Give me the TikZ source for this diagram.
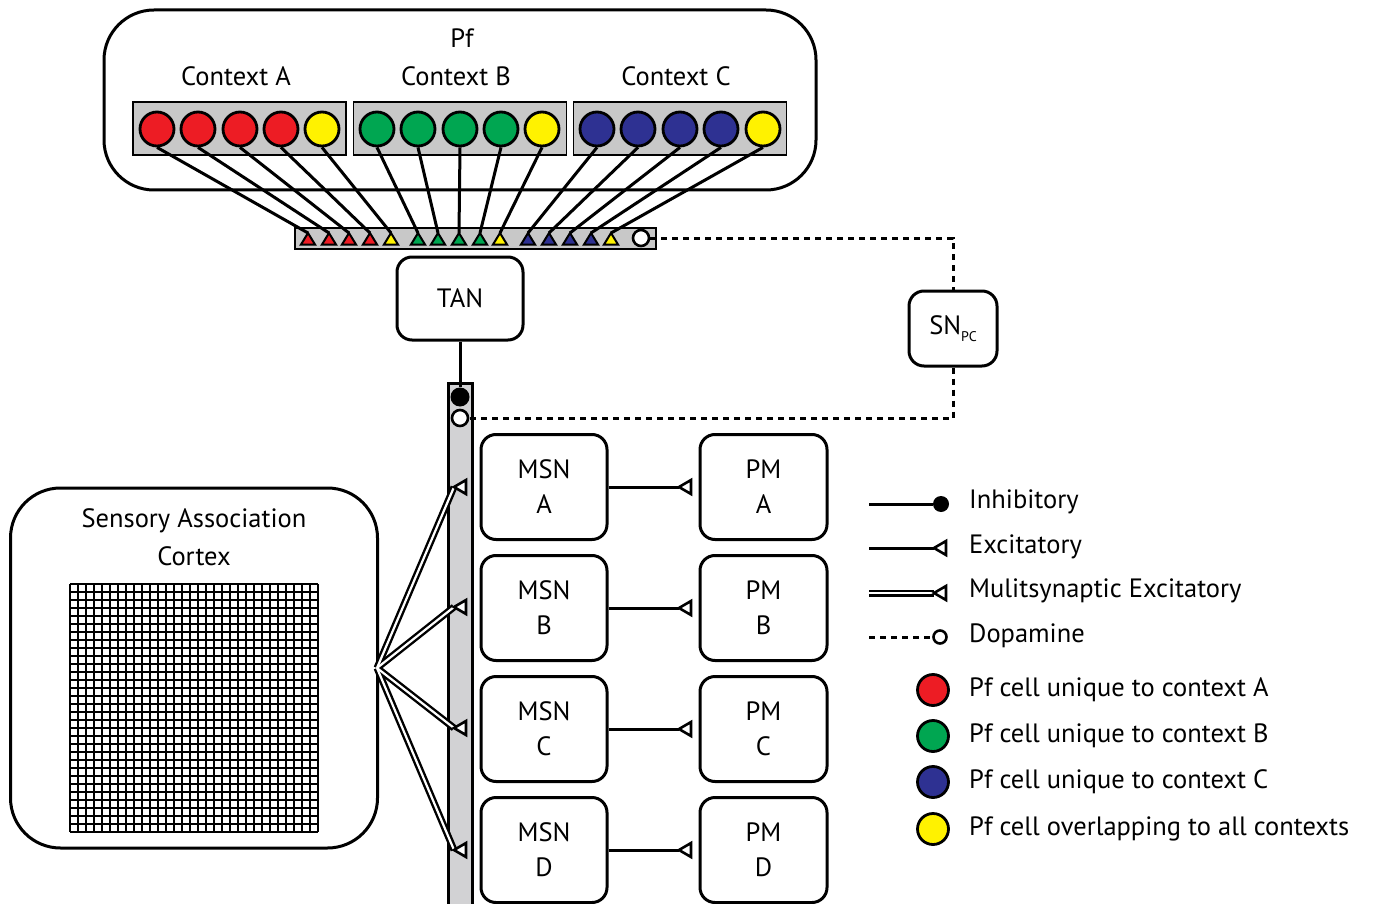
\documentclass[tikz,border=0pt]{standalone}
\usepackage{fontspec}
\setmainfont{PT Sans}
\definecolor{cred}{HTML}{ED1C24}
\definecolor{cgreen}{HTML}{00A651}
\definecolor{cblue}{HTML}{2E3192}
\definecolor{cyellow}{HTML}{FFF200}
\definecolor{cgray}{HTML}{C8C8C8}
\definecolor{bgray}{HTML}{D2D2D4}
\begin{document}
\begin{tikzpicture}[x=1pt,y=-1pt,
  txt/.style={font=\fontsize{26.5}{35}\selectfont, inner sep=0pt},
  rbox/.style={draw, line width=3pt, rounded corners=15pt, fill=white, font=\fontsize{26.5}{35}\selectfont, align=center, inner sep=0pt},
  ctxbox/.style={draw, line width=1.8pt, fill=cgray, minimum width=213pt, minimum height=53pt, inner sep=0pt},
  cell/.style={circle, draw, line width=2.8pt, minimum size=34pt, inner sep=0pt},
  wire/.style={line width=3pt},
  dopa/.style={line width=3pt, dash pattern=on 6pt off 5pt},
  tri/.style={draw, line width=2pt, line join=miter},
  dbl/.style={line width=7pt},
  dblin/.style={line width=2.2pt, white},
]
\useasboundingbox (0,0) rectangle (1373,904);

% Pf outer box
\node[draw, line width=3pt, rounded corners=50pt, minimum width=712pt, minimum height=180pt, inner sep=0pt] (pf) at (460,100) {};
\node[txt] (pflab) at (462,38) {Pf};
\node[txt] (lca) at (236,76) {Context A};
\node[txt] (lcb) at (456,76) {Context B};
\node[txt] (lcc) at (676,76) {Context C};
\node[ctxbox] (ca) at (239.5,128.5) {};
\node[ctxbox] (cb) at (460,128.5) {};
\node[ctxbox] (cc) at (680,128.5) {};

% strip
\node[draw, line width=1.8pt, fill=cgray, minimum width=361pt, minimum height=21pt, inner sep=0pt] (strip) at (475.5,238.5) {};

% triangle tips
\foreach \n/\x in {a1/308,a2/329,a3/349,a4/370,a5/391,b1/418,b2/438,b3/459,b4/480,b5/500,c1/528,c2/549,c3/570,c4/591,c5/611}
  \coordinate (t\n) at (\x,233);

% cells
\foreach \n/\x/\c in {a1/157/cred,a2/198/cred,a3/240/cred,a4/281/cred,a5/322/cyellow,
                      b1/377/cgreen,b2/418/cgreen,b3/460/cgreen,b4/501/cgreen,b5/542/cyellow,
                      c1/597/cblue,c2/638/cblue,c3/680/cblue,c4/721/cblue,c5/763/cyellow}
  \node[cell, fill=\c] (p\n) at (\x,129) {};

% connections
\foreach \n in {a1,a2,a3,a4,a5,b1,b2,b3,b4,b5,c1,c2,c3,c4,c5}
  \draw[wire] (p\n.south) -- (t\n);

% triangles
\foreach \n/\c in {a1/cred,a2/cred,a3/cred,a4/cred,a5/cyellow,b1/cgreen,b2/cgreen,b3/cgreen,b4/cgreen,b5/cyellow,c1/cblue,c2/cblue,c3/cblue,c4/cblue,c5/cyellow}
  \draw[tri, fill=\c] (t\n) -- ++(-7,11.5) -- ++(14,0) -- cycle;

\node[circle, draw, line width=2.6pt, fill=white, minimum size=16pt, inner sep=0pt] (dw1) at (641,238) {};

% TAN and SNpc
\node[rbox, minimum width=126pt, minimum height=83pt] (tan) at (460,298.5) {TAN};
\node[rbox, minimum width=88pt, minimum height=75pt] (sn) at (953,328.5) {SN\raisebox{-7pt}{\fontsize{14}{14}\selectfont PC}};

% vertical bar
\fill[bgray] (448,383) rectangle (472,906);
\draw[line width=3pt] (448,906) -- (448,383) -- (472,383) -- (472,906);
\node[circle, fill=black, minimum size=19pt, inner sep=0pt] (inh) at (460,397) {};
\node[circle, draw, line width=2.6pt, fill=white, minimum size=16pt, inner sep=0pt] (dw2) at (460,418) {};
\draw[wire] (tan.south) -- (inh.north);

% dopamine
\draw[dopa] (dw1.east) -| (sn.north);
\draw[dopa] (sn.south) |- (dw2.east);

% MSN and PM
\foreach \l/\y in {A/487,B/608,C/729,D/850}{
  \node[rbox, minimum width=126pt, minimum height=105pt] (msn\l) at (544,\y) {MSN\\\l};
  \node[rbox, minimum width=127pt, minimum height=105pt] (pm\l) at (763.5,\y) {PM\\\l};
  \coordinate (ex\l) at (679,\y);
  \draw[wire] (msn\l.east) -- (ex\l);
  \draw[tri, line width=2.6pt, fill=white] (ex\l) -- ++(12,-7) -- ++(0,14) -- cycle;
}

% Sensory association cortex
\node[draw, line width=3pt, rounded corners=50pt, minimum width=367pt, minimum height=360pt, inner sep=0pt] (sac) at (194,668) {};
\node[txt] (sac1) at (194,521) {Sensory Association};
\node[txt] (sac2) at (194,556) {Cortex};
\foreach \i in {0,...,31}{
  \draw[line width=1.6pt] (70+\i*8,584) -- (70+\i*8,832);
  \draw[line width=1.6pt] (70,584+\i*8) -- (318,584+\i*8);
}

% multisynaptic
\coordinate (ms) at (377,668);
\foreach \y in {487,607,728,850}{
  \coordinate (mt\y) at (454,\y);
  \draw[dbl] (ms) -- (mt\y);
}
\foreach \y in {487,607,728,850}{
  \draw[dblin] (ms) -- (mt\y);
}
\foreach \y in {487,607,728,850}{
  \draw[tri, line width=2.6pt, fill=white] (mt\y) -- ++(12,-7) -- ++(0,14) -- cycle;
}

% legend
\coordinate (l1s) at (869,504); \node[circle, fill=black, minimum size=16pt, inner sep=0pt] (l1e) at (941,504) {};
\draw[wire] (l1s) -- (l1e);
\coordinate (l2s) at (869,548); \coordinate (l2e) at (934,548);
\draw[wire] (l2s) -- (l2e);
\draw[tri, line width=2.6pt, fill=white] (l2e) -- ++(12,-7) -- ++(0,14) -- cycle;
\coordinate (l3s) at (869,593); \coordinate (l3e) at (934,593);
\draw[dbl] (l3s) -- (l3e); \draw[dblin] (l3s) -- (l3e);
\draw[tri, line width=2.6pt, fill=white] (l3e) -- ++(12,-7) -- ++(0,14) -- cycle;
\coordinate (l4s) at (869,637); \node[circle, draw, line width=2.6pt, fill=white, minimum size=13pt, inner sep=0pt] (l4e) at (940,637) {};
\draw[dopa] (l4s) -- (l4e.west);

\node[txt, anchor=west] (lt1) at (969,502) {Inhibitory};
\node[txt, anchor=west] (lt2) at (969,547) {Excitatory};
\node[txt, anchor=west] (lt3) at (969,591) {Mulitsynaptic Excitatory};
\node[txt, anchor=west] (lt4) at (969,636) {Dopamine};

\foreach \c/\y/\t in {cred/690/A, cgreen/736/B, cblue/782/C}{
  \node[cell, fill=\c, minimum size=31pt] (lc\t) at (933,\y) {};
  \node[txt, anchor=west] (lct\t) at (969,\y) {Pf cell unique to context \t};
}
\node[cell, fill=cyellow, minimum size=31pt] (lcY) at (933,829) {};
\node[txt, anchor=west] (lctY) at (969,829) {Pf cell overlapping to all contexts};
\end{tikzpicture}
\end{document}
